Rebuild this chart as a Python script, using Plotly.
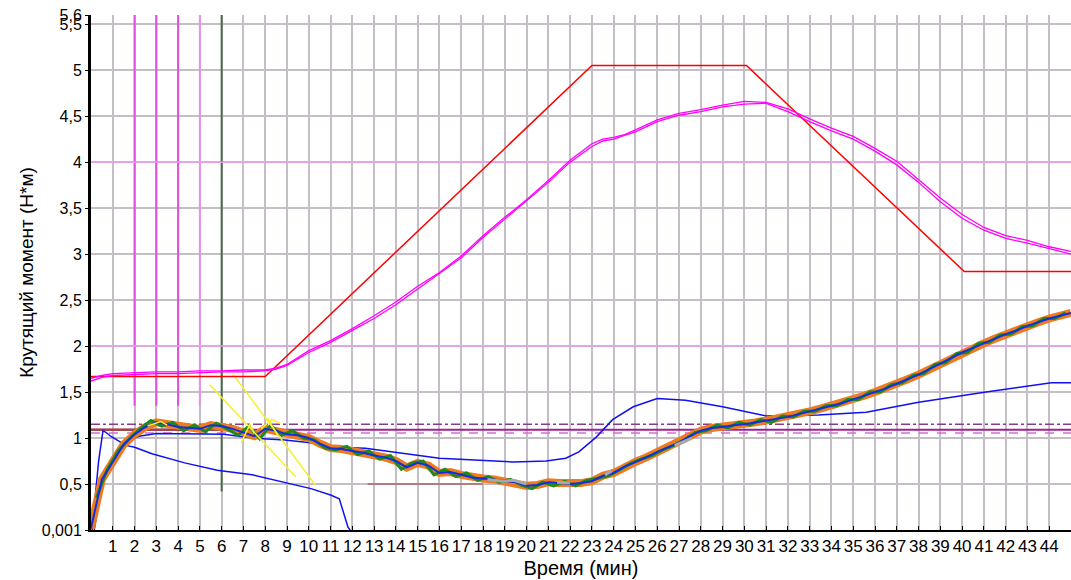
import plotly.graph_objects as go

# ---------------- data ----------------
x_ticks = list(range(1, 45))
y_tickvals = [0, 0.5, 1, 1.5, 2, 2.5, 3, 3.5, 4, 4.5, 5, 5.5, 5.6]
y_ticktext = ["0,001", "0,5", "1", "1,5", "2", "2,5", "3", "3,5", "4", "4,5", "5", "5,5", "5,6"]

# setpoint (red)
red_x = [0, 8, 23, 30.1, 40.1, 45]
red_y = [1.67, 1.67, 5.05, 5.05, 2.81, 2.81]

# magenta pair
mag1_x = [0, 0.5, 1, 2, 3, 4, 5, 6, 7, 8, 8.5, 9, 10, 11, 12, 13, 14, 15, 16, 17, 18, 19, 20, 21, 22, 23,
          23.5, 24, 24.5, 25, 26, 27, 28, 29, 30, 31, 32, 33, 34, 35, 36, 37, 38, 39, 40, 41, 42, 43, 44, 45]
mag1_y = [1.65, 1.68, 1.70, 1.71, 1.72, 1.72, 1.73, 1.73, 1.74, 1.74, 1.76, 1.80, 1.95, 2.06, 2.19, 2.33, 2.48, 2.65,
          2.80, 2.98, 3.20, 3.40, 3.59, 3.80, 4.02, 4.20, 4.25, 4.27, 4.30, 4.35, 4.46, 4.53, 4.57, 4.62, 4.66, 4.65,
          4.58, 4.47, 4.37, 4.28, 4.15, 4.01, 3.81, 3.61, 3.43, 3.29, 3.20, 3.15, 3.08, 3.03]
mag2_x = [0, 0.5, 1, 2, 3, 4, 5, 6, 7, 8, 8.5, 9, 10, 11, 12, 13, 14, 15, 16, 17, 18, 19, 20, 21, 22, 23,
          23.5, 24, 24.5, 25, 26, 27, 28, 29, 30, 31, 32, 33, 34, 35, 36, 37, 38, 39, 40, 41, 42, 43, 44, 45]
mag2_y = [1.62, 1.66, 1.68, 1.69, 1.70, 1.70, 1.71, 1.72, 1.72, 1.73, 1.75, 1.79, 1.93, 2.04, 2.17, 2.30, 2.45, 2.62,
          2.78, 2.96, 3.18, 3.38, 3.57, 3.78, 4.00, 4.17, 4.23, 4.25, 4.29, 4.33, 4.44, 4.51, 4.55, 4.60, 4.63, 4.64,
          4.55, 4.44, 4.34, 4.25, 4.12, 3.97, 3.78, 3.57, 3.39, 3.26, 3.17, 3.12, 3.06, 3.00]

# measured torque bundle
torque_x = [0.0, 0.5, 1.0, 1.5, 2.0, 2.5, 3.0, 3.5, 4.0, 4.5, 5.0, 5.5, 6.0, 6.5, 7.0, 7.5, 8.0, 8.5, 9.0, 9.5,
            10.0, 10.5, 11.0, 11.5, 12.0, 12.5, 13.0, 13.5, 14.0, 14.5, 15.0, 15.5, 16.0, 16.5, 17.0, 17.5, 18.0,
            18.5, 19.0, 19.5, 20.0, 20.5, 21.0, 21.5, 22.0, 22.5, 23.0, 23.5, 24.0, 24.5, 25.0, 25.5, 26.0, 26.5,
            27.0, 27.5, 28.0, 28.5, 29.0, 29.5, 30.0, 30.5, 31.0, 31.5, 32.0, 32.5, 33.0, 33.5, 34.0, 34.5, 35.0,
            35.5, 36.0, 36.5, 37.0, 37.5, 38.0, 38.5, 39.0, 39.5, 40.0, 40.5, 41.0, 41.5, 42.0, 42.5, 43.0, 43.5,
            44.0, 44.5, 45.0]
torque_y = [0.02, 0.55, 0.74, 0.93, 1.04, 1.12, 1.17, 1.15, 1.12, 1.11, 1.10, 1.14, 1.13, 1.10, 1.06, 1.02, 1.10,
            1.08, 1.04, 1.03, 1.00, 0.94, 0.89, 0.88, 0.86, 0.84, 0.81, 0.79, 0.75, 0.68, 0.73, 0.70, 0.62, 0.63,
            0.60, 0.57, 0.56, 0.55, 0.53, 0.52, 0.48, 0.49, 0.52, 0.51, 0.50, 0.51, 0.53, 0.59, 0.62, 0.69, 0.74,
            0.79, 0.85, 0.90, 0.95, 1.02, 1.08, 1.11, 1.12, 1.14, 1.15, 1.17, 1.19, 1.21, 1.23, 1.26, 1.29, 1.32,
            1.35, 1.38, 1.42, 1.46, 1.50, 1.54, 1.59, 1.64, 1.69, 1.75, 1.81, 1.87, 1.93, 1.98, 2.03, 2.08, 2.13,
            2.17, 2.22, 2.26, 2.30, 2.33, 2.36]
noise_x = [0.25, 0.75, 1.25, 1.75, 2.25, 2.75, 3.25, 3.75, 4.25, 4.75, 5.25, 5.75, 6.25, 6.75, 7.25, 7.75, 8.25,
           8.75, 9.25, 9.75, 10.25, 10.75, 11.25, 11.75, 12.25, 12.75, 13.25, 13.75, 14.25, 14.75, 15.25, 15.75,
           16.25, 16.75, 17.25, 17.75, 18.25, 18.75, 19.25, 19.75, 20.25, 20.75, 21.25, 21.75, 22.25, 22.75, 23.25,
           23.75, 24.25, 24.75, 25.25, 25.75, 26.25, 26.75, 27.25, 27.75, 28.25, 28.75, 29.25, 29.75, 30.25, 30.75,
           31.25, 31.75, 32.25, 32.75, 33.25, 33.75, 34.25, 34.75, 35.25, 35.75, 36.25, 36.75, 37.25, 37.75, 38.25,
           38.75, 39.25, 39.75, 40.25, 40.75, 41.25, 41.75, 42.25, 42.75, 43.25, 43.75, 44.25, 44.75]
noise_y = [0.35, 0.66, 0.86, 0.99, 1.10, 1.19, 1.13, 1.17, 1.08, 1.14, 1.07, 1.16, 1.10, 1.03, 1.13, 0.99, 1.14,
           1.03, 1.08, 1.00, 0.98, 0.89, 0.87, 0.91, 0.82, 0.86, 0.77, 0.81, 0.66, 0.73, 0.75, 0.60, 0.66, 0.58,
           0.62, 0.54, 0.58, 0.52, 0.55, 0.49, 0.45, 0.52, 0.48, 0.53, 0.48, 0.54, 0.56, 0.59, 0.65, 0.72, 0.77,
           0.81, 0.87, 0.92, 0.98, 1.06, 1.08, 1.14, 1.11, 1.17, 1.14, 1.20, 1.17, 1.24, 1.23, 1.29, 1.29, 1.35,
           1.35, 1.42, 1.42, 1.50, 1.50, 1.58, 1.60, 1.68, 1.70, 1.80, 1.82, 1.92, 1.93, 2.03, 2.04, 2.12, 2.13,
           2.21, 2.22, 2.30, 2.30, 2.36]

# gray fragments in the bundle
gray_x = [[18.2, 18.9, 19.4, 20.0], [21.4, 22.0], [23.6, 23.9], [26.8, 27.6]]
gray_y = [[0.55, 0.53, 0.54, 0.50], [0.52, 0.51], [0.60, 0.64], [0.92, 1.00]]

# blue curves
blueA_x = [0.05, 0.35, 0.55, 0.7, 0.9, 1.3, 1.6, 2.0, 2.8, 4.3, 5.8, 7.4, 8.9, 10.1, 11.0, 11.4, 11.8, 11.9]
blueA_y = [0.0, 0.75, 1.08, 1.06, 1.02, 0.96, 0.92, 0.90, 0.83, 0.73, 0.65, 0.60, 0.52, 0.45, 0.38, 0.34, 0.03, 0.0]
blueB_x = [0.15, 0.45, 0.7, 1.0, 1.3, 1.7, 2.2, 3.0, 6.1, 7.4, 8.9, 10.4, 11.3, 12.6, 13.9, 16.0, 19.4, 20.9,
           21.8, 22.4, 23.2, 23.95, 24.9, 26.0, 27.3, 29.0, 31.0, 33.4, 35.6, 38.0, 41.1, 44.1, 45.0]
blueB_y = [0.0, 0.45, 0.65, 0.78, 0.90, 0.97, 1.02, 1.05, 1.04, 1.00, 0.98, 0.94, 0.90, 0.89, 0.85, 0.78, 0.74,
           0.75, 0.78, 0.85, 1.01, 1.20, 1.34, 1.43, 1.41, 1.34, 1.24, 1.25, 1.28, 1.39, 1.50, 1.60, 1.60]

# yellow marks
yellow_x = [[5.45, 9.4], [6.5, 10.3], [6.9, 7.3, 7.5], [7.8, 8.3, 8.7], [8.1, 8.6], [2.6, 3.2, 3.5]]
yellow_y = [[1.58, 0.58], [1.70, 0.49], [0.95, 1.15, 1.05], [1.10, 1.20, 1.16], [1.22, 1.02], [1.13, 1.18, 1.14]]

# horizontal reference levels
lvl_dashdot = 1.15
lvl_solid = 1.09
lvl_dash = 1.055
brown_seg_x = [0, 7]
brown_seg_y = [1.09, 1.09]
brown_low_x = [12.7, 18.0]
brown_low_y = [0.5, 0.5]

# coloured grid overlays
magenta_vlines = [2, 3, 4]
light_magenta_vlines = [5]
green_vline = 6
pink_hlines = [2, 4]

# ---------------- figure ----------------
fig = go.Figure()

def line(x, y, color, width, dash=None):
    fig.add_trace(go.Scatter(x=x, y=y, mode="lines", line=dict(color=color, width=width, dash=dash),
                             hoverinfo="skip", showlegend=False))

# reference levels
line([0, 45], [lvl_dashdot] * 2, "#8A3A8A", 1.5, "dashdot")
line([0, 45], [lvl_dash] * 2, "#D070D0", 1.5, "dash")
line([0, 45], [lvl_solid] * 2, "#A0209A", 2)
line(brown_seg_x, brown_seg_y, "#A04848", 2.5)
line(brown_low_x, brown_low_y, "#A86868", 1.5)

# blue curves
line(blueB_x, blueB_y, "#1010F0", 1.5)
line(blueA_x, blueA_y, "#1010F0", 1.5)

# torque bundle
line(torque_x, torque_y, "#F07A20", 8)
line(noise_x, noise_y, "#1E8A1E", 3)
line(torque_x, torque_y, "#1030E0", 2)
for gx, gy in zip(gray_x, gray_y):
    line(gx, gy, "#A8A8A8", 3)

# yellow
for yx, yy in zip(yellow_x, yellow_y):
    line(yx, yy, "#F4F030", 1.5)

# setpoint + magenta
line(red_x, red_y, "#FF0000", 1.5)
line(mag1_x, mag1_y, "#FF00FF", 1.3)
line(mag2_x, mag2_y, "#FF00FF", 1.3)

shapes = []
for v in magenta_vlines:
    shapes.append(dict(type="line", xref="x", yref="y", x0=v, x1=v, y0=1.35, y1=5.6,
                       line=dict(color="#E050E0", width=2), layer="between"))
for v in light_magenta_vlines:
    shapes.append(dict(type="line", xref="x", yref="y", x0=v, x1=v, y0=1.35, y1=5.6,
                       line=dict(color="#E890E8", width=2), layer="between"))
shapes.append(dict(type="line", xref="x", yref="y", x0=green_vline, x1=green_vline, y0=0.42, y1=5.6,
                   line=dict(color="#4A6A4A", width=2), layer="between"))
for h in pink_hlines:
    shapes.append(dict(type="line", xref="x", yref="y", x0=0, x1=45, y0=h, y1=h,
                       line=dict(color="#E8A0E8", width=1.5), layer="between"))

fig.update_layout(
    width=1071, height=580,
    margin=dict(l=91, r=0, t=15, b=50),
    paper_bgcolor="white", plot_bgcolor="white",
    font=dict(family="Liberation Sans, Arial, sans-serif", color="black"),
    shapes=shapes,
    xaxis=dict(range=[0, 45], tickvals=x_ticks, ticktext=[str(v) for v in x_ticks],
               showgrid=True, gridcolor="#C6BEC6", gridwidth=2,
               showline=True, linecolor="black", linewidth=2,
               ticks="inside", ticklen=4, tickcolor="black", tickfont=dict(size=17),
               title=dict(text="Время (мин)", font=dict(size=20), standoff=6),
               zeroline=False),
    yaxis=dict(range=[0, 5.6], tickvals=y_tickvals, ticktext=y_ticktext,
               showgrid=True, gridcolor="#C6BEC6", gridwidth=2,
               showline=True, linecolor="black", linewidth=3,
               ticks="outside", ticklen=3, tickcolor="black", tickfont=dict(size=16),
               title=dict(text="Крутящий момент (Н*м)", font=dict(size=19), standoff=4),
               zeroline=False),
)

fig.write_html("out.html")
